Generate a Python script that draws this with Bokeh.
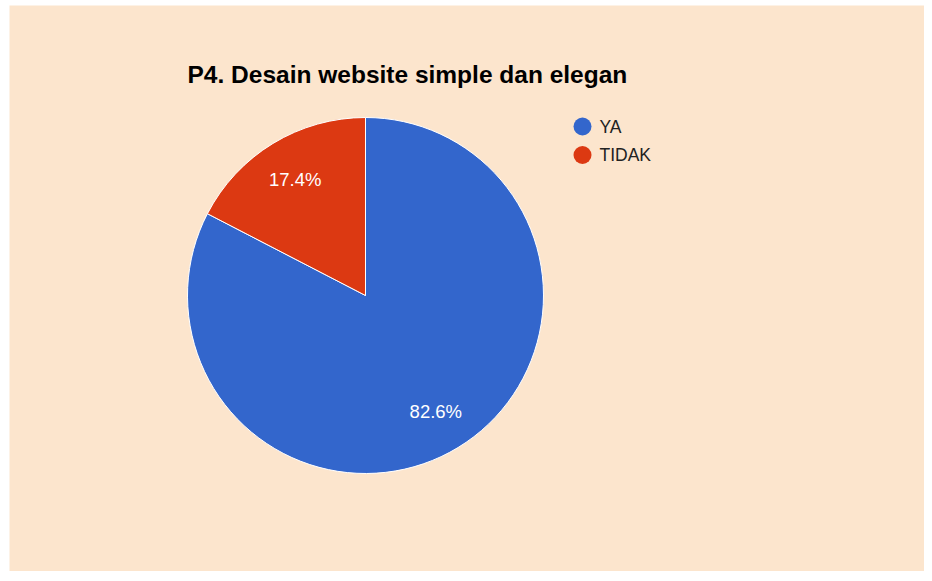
import math
from bokeh.plotting import figure
from bokeh.models import Range1d, ColumnDataSource
from bokeh.core.properties import value
from bokeh.embed import file_html
from bokeh.resources import INLINE

title_text = "P4. Desain website simple dan elegan"
categories = ["YA", "TIDAK"]
shares = [82.6, 17.4]
colors = ["#3366CC", "#DC3912"]

BG = "#FCE5CD"
W, H = 924, 571
LEFT, TOP = 9, 5
p = figure(width=W, height=H, output_backend="svg", toolbar_location=None,
           x_range=Range1d(LEFT, W), y_range=Range1d(0, H - TOP),
           min_border=0, min_border_left=LEFT, min_border_top=TOP,
           background_fill_color=BG, border_fill_color="white",
           outline_line_color=None)
p.axis.visible = False
p.grid.visible = False

def py(page_y):
    return H - page_y

cx, cy, r = 365, py(295), 178
total = sum(shares)
starts, ends, lx, ly, labels = [], [], [], [], []
acc = 0.0
for s in shares:
    a0 = math.pi / 2 - 2 * math.pi * acc / total
    a1 = math.pi / 2 - 2 * math.pi * (acc + s) / total
    starts.append(a0)
    ends.append(a1)
    mid = (a0 + a1) / 2
    lx.append(cx + 0.76 * r * math.cos(mid))
    ly.append(cy + 0.76 * r * math.sin(mid))
    labels.append(f"{s:.1f}%")
    acc += s

src = ColumnDataSource(dict(start=starts, end=ends, color=colors))
p.wedge(x=cx, y=cy, radius=r, start_angle="start", end_angle="end",
        direction="clock", fill_color="color", line_color="white",
        line_width=1, source=src)

p.text(x=lx, y=ly, text=labels, text_color="white",
       text_font=value("Liberation Sans"), text_font_size="18.5px",
       text_align="center", text_baseline="middle")

p.text(x=[187], y=[py(74)], text=[title_text], text_color="#000000",
       text_font=value("Liberation Sans"), text_font_size="24.5px",
       text_font_style="bold", text_align="left", text_baseline="middle")

leg_y = [py(126 + 28.5 * i) for i in range(len(categories))]
p.scatter(x=[582] * len(categories), y=leg_y, size=18, marker="circle",
          fill_color=colors, line_color=None)
p.text(x=[599] * len(categories), y=leg_y, text=categories, text_color="#222222",
       text_font=value("Liberation Sans"), text_font_size="17.5px",
       text_align="left", text_baseline="middle")

open("out.html", "w").write(file_html(p, INLINE))
